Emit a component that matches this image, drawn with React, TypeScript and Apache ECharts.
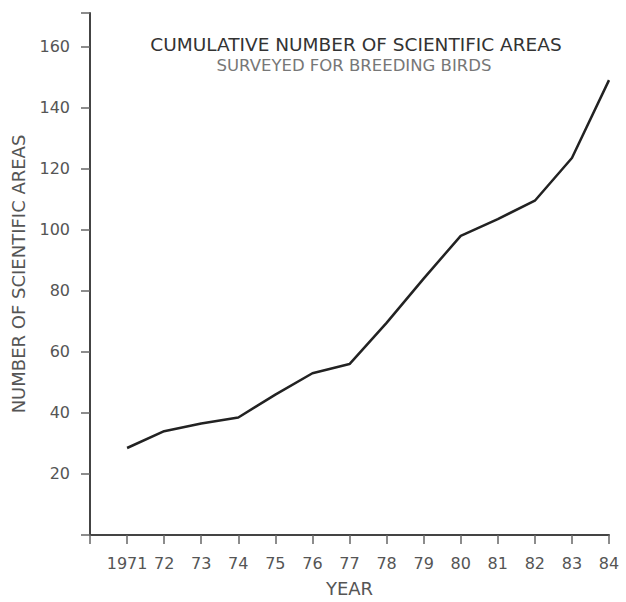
import React, { useEffect, useRef } from "react";
import * as echarts from "echarts";

const years = [1971, 1972, 1973, 1974, 1975, 1976, 1977, 1978, 1979, 1980, 1981, 1982, 1983, 1984];
const areas = [28.5, 34, 36.5, 38.5, 46, 53, 56, 69.5, 84, 98, 103.5, 109.5, 123.5, 149];
const yTicks = [20, 40, 60, 80, 100, 120, 140, 160];
const titleText = "CUMULATIVE NUMBER OF SCIENTIFIC AREAS";
const subtitleText = "SURVEYED FOR BREEDING BIRDS";
const xName = "YEAR";
const yName = "NUMBER OF SCIENTIFIC AREAS";

export default function App() {
  const ref = useRef<HTMLDivElement>(null);
  useEffect(() => {
    if (!ref.current) return;
    const chart = echarts.init(ref.current, null, { renderer: "svg" });
    const font = "DejaVu Sans";
    chart.setOption({
      animation: false,
      backgroundColor: "#ffffff",
      title: [
        {
          text: titleText,
          left: 351,
          top: 30,
          textAlign: "center",
          textStyle: { fontFamily: font, fontSize: 18.5, fontWeight: "normal", color: "#333" },
        },
        {
          text: subtitleText,
          left: 349,
          top: 52,
          textAlign: "center",
          textStyle: { fontFamily: font, fontSize: 16.5, fontWeight: "normal", color: "#777" },
        },
      ],
      grid: { left: 90, right: 17, top: 13, bottom: 59 },
      xAxis: {
        type: "value",
        min: 1970,
        max: 1984,
        interval: 1,
        name: xName,
        nameLocation: "middle",
        nameGap: 44,
        nameTextStyle: { fontFamily: font, fontSize: 18, color: "#555" },
        axisLine: { show: true, lineStyle: { color: "#444", width: 2 } },
        axisTick: { show: true, inside: false, length: 9, lineStyle: { color: "#666", width: 1.5 } },
        axisLabel: {
          fontFamily: font,
          fontSize: 16,
          color: "#555",
          margin: 20,
          formatter: (v: number) => {
            if (!years.includes(v)) return "";
            return v === years[0] ? String(v) : String(v).slice(2);
          },
        },
        splitLine: { show: false },
      },
      yAxis: {
        type: "value",
        min: 0,
        max: 171,
        interval: 20,
        name: yName,
        nameLocation: "middle",
        nameGap: 63,
        nameTextStyle: { fontFamily: font, fontSize: 18, color: "#555" },
        axisLine: { show: true, lineStyle: { color: "#444", width: 2 } },
        axisTick: { show: true, length: 9, lineStyle: { color: "#666", width: 1.5 } },
        axisLabel: {
          fontFamily: font,
          fontSize: 16,
          color: "#555",
          margin: 20,
          formatter: (v: number) => (yTicks.includes(v) ? String(v) : ""),
        },
        splitLine: { show: false },
      },
      series: [
        {
          type: "line",
          data: years.map((y, i) => [y, areas[i]]),
          symbol: "none",
          lineStyle: { color: "#222", width: 2.5 },
        },
      ],
    });
    return () => chart.dispose();
  }, []);
  return (
    <div
      ref={ref}
      style={{ position: "absolute", left: 0, top: 0, width: 626, height: 602 }}
    />
  );
}
